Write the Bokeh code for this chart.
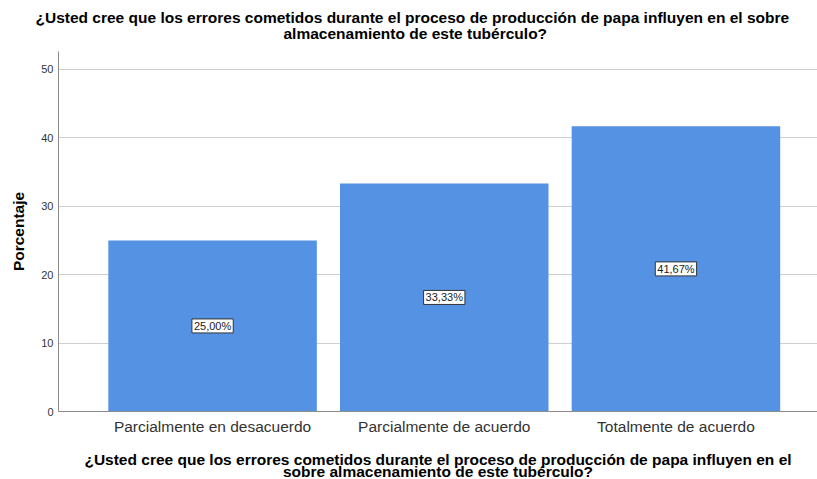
from bokeh.plotting import figure
from bokeh.models import Range1d, FixedTicker, ColumnDataSource, Title
from bokeh.core.properties import value
from bokeh.embed import file_html
from bokeh.resources import INLINE

categories = ["Parcialmente en desacuerdo", "Parcialmente de acuerdo", "Totalmente de acuerdo"]
percentages = [25.00, 33.33, 41.67]
y_ticks = [0, 10, 20, 30, 40, 50]
title_lines = [
    "¿Usted cree que los errores cometidos durante el proceso de producción de papa influyen en el sobre",
    "almacenamiento de este tubérculo?",
]
xtitle_lines = [
    "¿Usted cree que los errores cometidos durante el proceso de producción de papa influyen en el",
    "sobre almacenamiento de este tubérculo?",
]
y_title = "Porcentaje"

FONT = "Liberation Sans"
BAR = "#5592E4"
TSIZE = "15.5px"

xs = list(range(len(categories)))
src = ColumnDataSource(dict(
    x=xs,
    top=percentages,
    mid=[v / 2 for v in percentages],
    txt=[f"{v:.2f}".replace(".", ",") + "%" for v in percentages],
))

p = figure(width=817, height=479, output_backend="svg", toolbar_location=None,
           title=None,
           x_range=Range1d(-0.665, 2.611), y_range=Range1d(0, 52.6),
           min_border_left=58, min_border_right=0, min_border_top=51, min_border_bottom=68)
p.outline_line_color = None
p.background_fill_color = "white"
p.border_fill_color = "white"

p.vbar(x="x", top="top", width=0.9, source=src, fill_color=BAR, line_color=None)

p.text(x="x", y="mid", text="txt", source=src,
       text_align="center", text_baseline="middle",
       text_font=value(FONT), text_font_size=value("11px"), text_color="#222222",
       background_fill_color="white", border_line_color="#333333",
       border_line_width=1, padding=(2, 1))

# axes
p.xaxis.ticker = FixedTicker(ticks=xs)
p.xaxis.major_label_overrides = {i: c for i, c in zip(xs, categories)}
p.xaxis.major_label_text_font = FONT
p.xaxis.major_label_text_font_size = TSIZE
p.xaxis.major_label_text_color = "#333333"
p.xaxis.major_tick_line_color = None
p.xaxis.minor_tick_line_color = None
p.xaxis.major_tick_out = 0
p.xaxis.major_tick_in = 0
p.xaxis.axis_line_color = "#8c8c8c"
p.xaxis.major_label_standoff = 6
p.xaxis.axis_label = xtitle_lines[0]
p.xaxis.axis_label_text_font = FONT
p.xaxis.axis_label_text_font_style = "bold"
p.xaxis.axis_label_text_font_size = TSIZE
p.xaxis.axis_label_text_color = "#000000"
p.xaxis.axis_label_standoff = 13

p.yaxis.ticker = FixedTicker(ticks=y_ticks)
p.yaxis.major_label_text_font = FONT
p.yaxis.major_label_text_font_size = "11px"
p.yaxis.major_label_text_color = "#333333"
p.yaxis.major_tick_line_color = None
p.yaxis.minor_tick_line_color = None
p.yaxis.major_tick_out = 0
p.yaxis.major_tick_in = 0
p.yaxis.axis_line_color = "#8c8c8c"
p.yaxis.axis_label = y_title
p.yaxis.axis_label_text_font = FONT
p.yaxis.axis_label_text_font_style = "bold"
p.yaxis.axis_label_text_font_size = TSIZE
p.yaxis.axis_label_text_color = "#000000"
p.yaxis.axis_label_standoff = 11
p.yaxis.major_label_standoff = 5

p.xgrid.visible = False
p.ygrid.ticker = FixedTicker(ticks=y_ticks)
p.ygrid.grid_line_color = "#d0d0d0"

# top title: line nearest the frame is added first
p.add_layout(Title(text=title_lines[1], align="left", offset=225,
                   vertical_align="top", standoff=16,
                   text_font=FONT, text_font_style="bold", text_font_size=TSIZE,
                   text_color="#000000"), "above")
p.add_layout(Title(text=title_lines[0], align="left", offset=-23,
                   vertical_align="bottom", standoff=-19,
                   text_font=FONT, text_font_style="bold", text_font_size=TSIZE,
                   text_color="#000000"), "above")

# second line of the x axis title
p.add_layout(Title(text=xtitle_lines[1], align="center", vertical_align="top", standoff=-16,
                   text_font=FONT, text_font_style="bold", text_font_size=TSIZE,
                   text_color="#000000"), "below")

open("out.html", "w").write(file_html(p, INLINE))
